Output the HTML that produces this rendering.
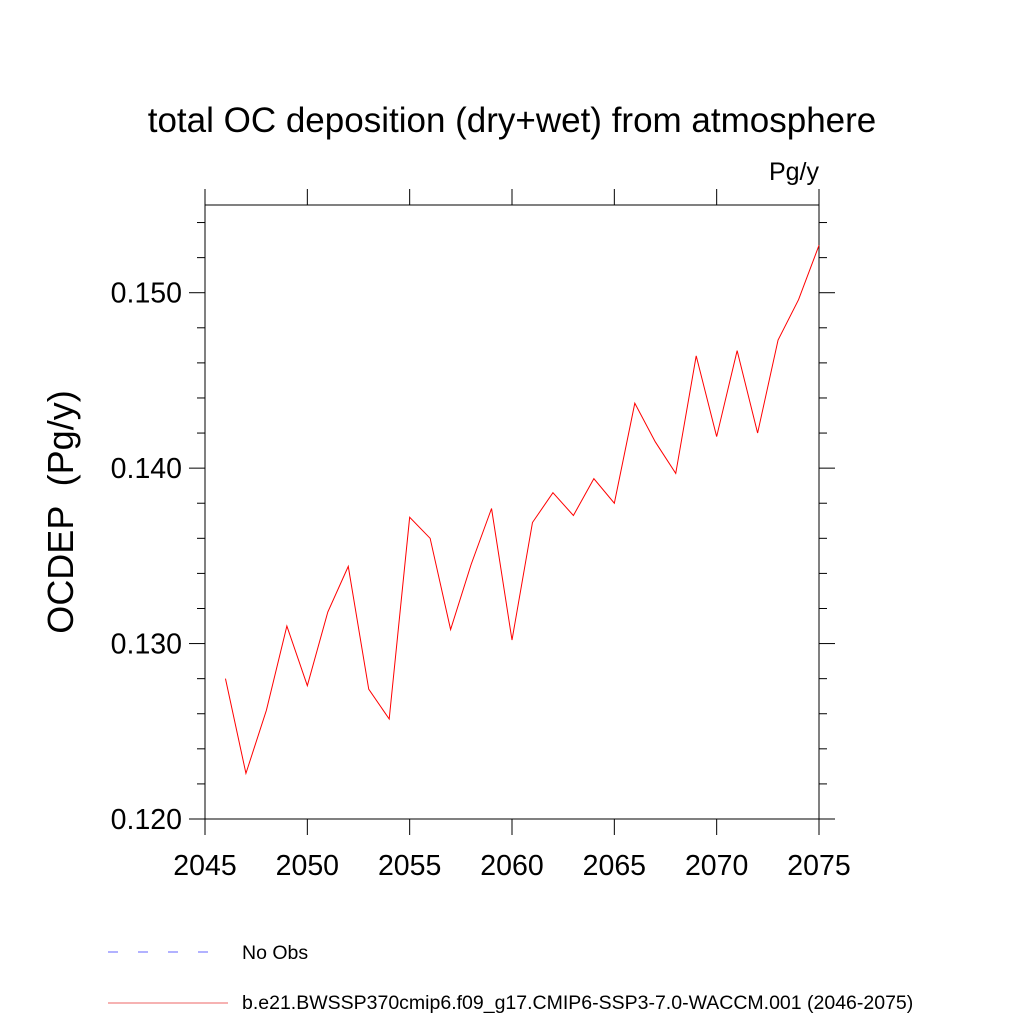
<!DOCTYPE html>
<html><head><meta charset="utf-8"><style>
body{margin:0;background:#fff}
svg{display:block;font-family:"Liberation Sans",sans-serif}
</style></head><body>
<svg width="1024" height="1024" viewBox="0 0 1024 1024">
<text x="512" y="132" font-size="35" text-anchor="middle">total OC deposition (dry+wet) from atmosphere</text>
<text x="819" y="180" font-size="25" text-anchor="end">Pg/y</text>
<text transform="translate(73,512) rotate(-90)" font-size="36" text-anchor="middle" xml:space="preserve" style="white-space:pre">OCDEP  (Pg/y)</text>
<g id="axes"></g>
<g id="series"></g>
<g>
<line x1="108" y1="952" x2="218" y2="952" stroke="#6666ff" stroke-width="1" stroke-dasharray="10,20"/>
<text x="242" y="959" font-size="19.5">No Obs</text>
<line x1="108" y1="1003" x2="228" y2="1003" stroke="#ee6666" stroke-width="1"/>
<text x="242" y="1009" font-size="19.5">b.e21.BWSSP370cmip6.f09_g17.CMIP6-SSP3-7.0-WACCM.001 (2046-2075)</text>
</g>
</svg>
<script>
const years=[2046,2047,2048,2049,2050,2051,2052,2053,2054,2055,2056,2057,2058,2059,2060,2061,2062,2063,2064,2065,2066,2067,2068,2069,2070,2071,2072,2073,2074,2075];
const ocdep=[0.1280,0.1226,0.1262,0.1310,0.1276,0.1318,0.1344,0.1274,0.1257,0.1372,0.1360,0.1308,0.1345,0.1377,0.1302,0.1369,0.1386,0.1373,0.1394,0.1380,0.1437,0.1415,0.1397,0.1464,0.1418,0.1467,0.1420,0.1473,0.1496,0.1527];
const xTicks=[2045,2050,2055,2060,2065,2070,2075];
const yTicks=[0.120,0.130,0.140,0.150];
const yTickLabels=["0.120","0.130","0.140","0.150"];
const X0=205,X1=819,Y0=819,Y1=205,xmin=2045,xmax=2075,ymin=0.120,ymax=0.155;
const xs=v=>X0+(v-xmin)/(xmax-xmin)*(X1-X0);
const ys=v=>Y0-(v-ymin)/(ymax-ymin)*(Y0-Y1);
const NS="http://www.w3.org/2000/svg";
const ax=document.getElementById('axes');
function ln(g,x1,y1,x2,y2,name){const l=document.createElementNS(NS,'line');
l.setAttribute('x1',x1);l.setAttribute('y1',y1);l.setAttribute('x2',x2);l.setAttribute('y2',y2);
l.setAttribute('stroke','#000');l.setAttribute('stroke-width','1');


g.appendChild(l);return l;}
const r=document.createElementNS(NS,'rect');
r.setAttribute('x',X0);r.setAttribute('y',Y1);r.setAttribute('width',X1-X0);r.setAttribute('height',Y0-Y1);
r.setAttribute('fill','none');r.setAttribute('stroke','#000');


ax.appendChild(r);
xTicks.forEach(t=>{const x=xs(t);
ln(ax,x,Y0,x,Y0+16,'x-tick');ln(ax,x,Y1,x,Y1-16,'x-tick-top');
const tx=document.createElementNS(NS,'text');tx.setAttribute('x',x);tx.setAttribute('y',875);
tx.setAttribute('font-size','28.5');tx.setAttribute('text-anchor','middle');tx.textContent=t;


ax.appendChild(tx);});
for(let i=0;i<=17;i++){const v=ymin+i*0.002;if(v>ymax+1e-9)break;const y=ys(v);
const major=Math.abs((v*1000)%10)<1e-6||Math.abs((v*1000)%10-10)<1e-6;
const len=major?16:8;
ln(ax,X0,y,X0-len,y,'y-tick');ln(ax,X1,y,X1+len,y,'y-tick-right');}
yTicks.forEach((t,i)=>{const tx=document.createElementNS(NS,'text');tx.setAttribute('x',182);tx.setAttribute('y',ys(t)+10);
tx.setAttribute('font-size','28.5');tx.setAttribute('text-anchor','end');tx.textContent=yTickLabels[i];


ax.appendChild(tx);});
const p=document.createElementNS(NS,'polyline');
p.setAttribute('points',years.map((y,i)=>xs(y)+','+ys(ocdep[i])).join(' '));
p.setAttribute('fill','none');p.setAttribute('stroke','#ff0000');p.setAttribute('stroke-width','1');


document.getElementById('series').appendChild(p);
</script>
</body></html>
